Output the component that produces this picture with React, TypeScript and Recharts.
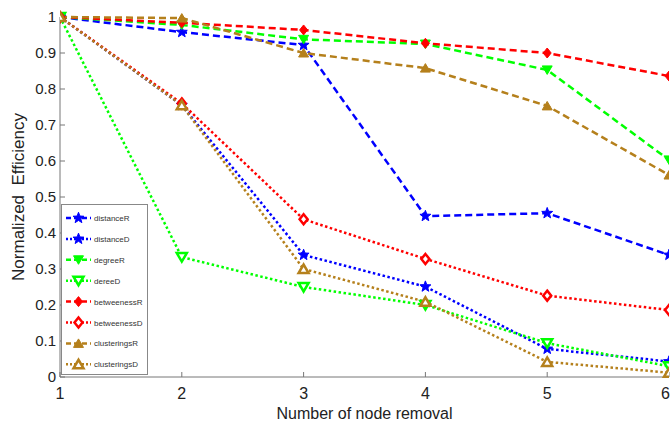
import React from "react";
import {
  LineChart,
  Line,
  XAxis,
  YAxis,
  Legend,
} from "recharts";

const removals = [1, 2, 3, 4, 5, 6];
const distanceR = [1, 0.958, 0.922, 0.447, 0.455, 0.339];
const distanceD = [1, 0.755, 0.339, 0.251, 0.078, 0.043];
const degreeR = [1, 0.978, 0.938, 0.925, 0.853, 0.603];
const dereeD = [1, 0.333, 0.25, 0.2, 0.094, 0.03];
const betweenessR = [1, 0.984, 0.964, 0.927, 0.9, 0.836];
const betweenessD = [1, 0.76, 0.438, 0.328, 0.226, 0.186];
const clusteringsR = [1, 0.997, 0.9, 0.858, 0.753, 0.561];
const clusteringsD = [1, 0.755, 0.3, 0.209, 0.042, 0.012];

const xTicks = [1, 2, 3, 4, 5, 6];
const yTicks = [0, 0.1, 0.2, 0.3, 0.4, 0.5, 0.6, 0.7, 0.8, 0.9, 1];

const BLUE = "#0000ff";
const GREEN = "#00ff00";
const RED = "#ff0000";
const BROWN = "#b5801c";
const DASH = "7 4";
const DOT = "2.5 2.5";
const FONT = "'Liberation Sans', Arial, Helvetica, sans-serif";

type Shape = "star" | "down" | "diamond" | "up";

const series: {
  key: string;
  values: number[];
  color: string;
  dash: string;
  shape: Shape;
  filled: boolean;
}[] = [
  { key: "distanceR", values: distanceR, color: BLUE, dash: DASH, shape: "star", filled: true },
  { key: "distanceD", values: distanceD, color: BLUE, dash: DOT, shape: "star", filled: true },
  { key: "degreeR", values: degreeR, color: GREEN, dash: DASH, shape: "down", filled: true },
  { key: "dereeD", values: dereeD, color: GREEN, dash: DOT, shape: "down", filled: false },
  { key: "betweenessR", values: betweenessR, color: RED, dash: DASH, shape: "diamond", filled: true },
  { key: "betweenessD", values: betweenessD, color: RED, dash: DOT, shape: "diamond", filled: false },
  { key: "clusteringsR", values: clusteringsR, color: BROWN, dash: DASH, shape: "up", filled: true },
  { key: "clusteringsD", values: clusteringsD, color: BROWN, dash: DOT, shape: "up", filled: false },
];

const data = removals.map((x, i) => {
  const row: Record<string, number> = { x };
  series.forEach((s) => (row[s.key] = s.values[i]));
  return row;
});

function markerPath(shape: Shape, cx: number, cy: number, r: number) {
  if (shape === "star") {
    const pts: string[] = [];
    for (let k = 0; k < 10; k++) {
      const rad = k % 2 === 0 ? r * 1.15 : r * 0.48;
      const a = -Math.PI / 2 + (k * Math.PI) / 5;
      pts.push(`${cx + rad * Math.cos(a)},${cy + rad * Math.sin(a)}`);
    }
    return "M" + pts.join("L") + "Z";
  }
  if (shape === "down")
    return `M${cx - r},${cy - r * 0.8}L${cx + r},${cy - r * 0.8}L${cx},${cy + r * 0.9}Z`;
  if (shape === "up")
    return `M${cx - r},${cy + r * 0.8}L${cx + r},${cy + r * 0.8}L${cx},${cy - r * 0.9}Z`;
  return `M${cx},${cy - r}L${cx + r * 0.8},${cy}L${cx},${cy + r}L${cx - r * 0.8},${cy}Z`;
}

function Marker({ cx, cy, shape, color, filled }: { cx: number; cy: number; shape: Shape; color: string; filled: boolean }) {
  return (
    <path
      d={markerPath(shape, cx, cy, 5)}
      fill={filled ? color : "#fff"}
      stroke={color}
      strokeWidth={filled ? 1 : 2.5}
    />
  );
}

// last label would hang off the right edge, so pull it in
function XTick({ x, y, payload }: any) {
  const last = payload.value === 6;
  return (
    <text x={last ? x + 1 : x} y={y} dy={12} textAnchor={last ? "end" : "middle"} fill="#222" fontSize={16} fontFamily={FONT}>
      {payload.value}
    </text>
  );
}

function LegendBox() {
  return (
    <svg width={87} height={171} style={{ display: "block" }}>
      <rect x={0.5} y={0.5} width={86} height={170} fill="#fff" stroke="#888" />
      {series.map((s, i) => {
        const y = 14 + i * 20.9;
        return (
          <g key={s.key}>
            <line x1={5} x2={30} y1={y} y2={y} stroke={s.color} strokeWidth={2.5} strokeDasharray={s.dash === DASH ? "5 3" : "2 2"} />
            <Marker cx={17.5} cy={y} shape={s.shape} color={s.color} filled={s.filled} />
            <text x={33} y={y + 3} fontSize={8} fontFamily="'Liberation Sans Narrow', 'Liberation Sans', Arial, sans-serif" fill="#333">
              {s.key}
            </text>
          </g>
        );
      })}
    </svg>
  );
}

export default function App() {
  return (
    <div style={{ position: "fixed", left: 0, top: 0, background: "#fff" }}>
      <LineChart width={671} height={423} data={data} margin={{ top: 17, right: 2, bottom: 0, left: 0 }}>
        <XAxis
          dataKey="x"
          type="number"
          domain={[1, 6]}
          ticks={xTicks}
          interval={0}
          allowDataOverflow
          height={46}
          stroke="#777"
          tickSize={-5}
          tickMargin={15}
          tick={<XTick />}
          label={{ value: "Number of node removal", position: "insideBottom", offset: 4, fill: "#222", fontSize: 16, fontFamily: FONT }}
        />
        <YAxis
          type="number"
          domain={[0, 1]}
          ticks={yTicks}
          interval={0}
          width={60}
          stroke="#777"
          tickSize={-5}
          tickMargin={9}
          tick={{ fill: "#222", fontSize: 15, fontFamily: FONT }}
          label={{ value: "Normalized\u00a0 Efficiency", angle: -90, position: "insideLeft", offset: 18, textAnchor: "middle", fill: "#222", fontSize: 17, fontFamily: FONT }}
        />
        <Legend
          layout="vertical"
          align="center"
          verticalAlign="middle"
          wrapperStyle={{ left: 61, top: 204, width: 87, height: 171 }}
          content={() => <LegendBox />}
        />
        {series.map((s) => (
          <Line
            key={s.key}
            dataKey={s.key}
            stroke={s.color}
            strokeWidth={2.5}
            strokeDasharray={s.dash}
            isAnimationActive={false}
            dot={(p: any) => (
              <Marker key={`${s.key}-${p.index}`} cx={p.cx} cy={p.cy} shape={s.shape} color={s.color} filled={s.filled} />
            )}
            activeDot={false}
          />
        ))}
      </LineChart>
    </div>
  );
}
